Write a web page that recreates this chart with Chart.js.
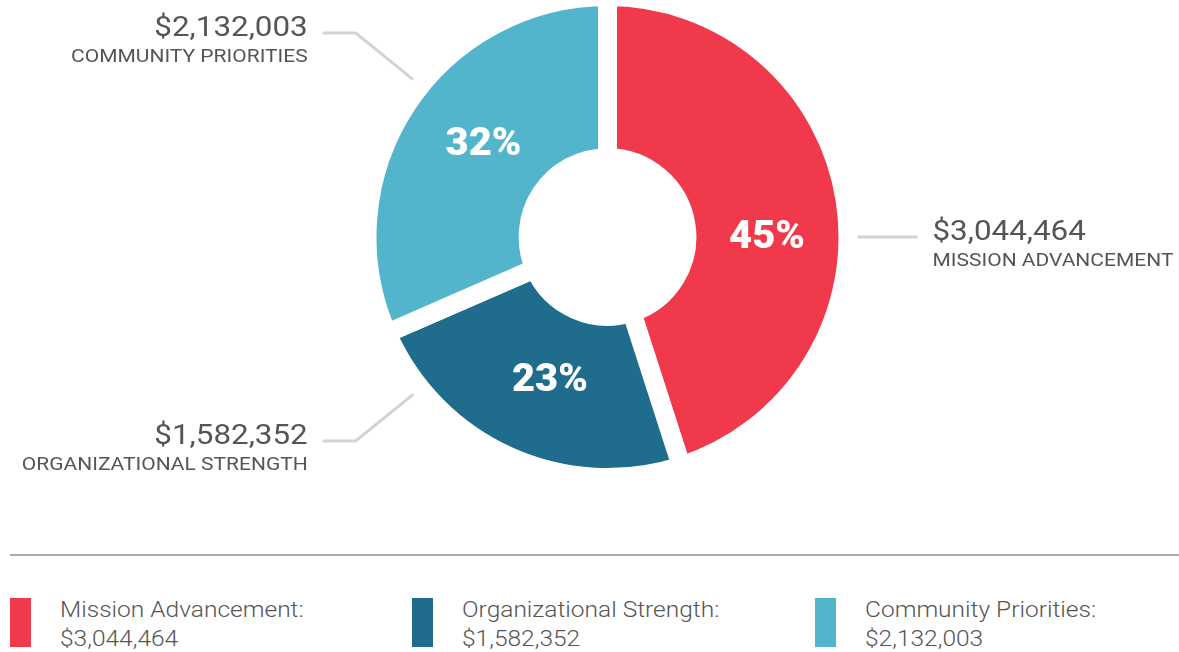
<!DOCTYPE html>
<html>
<head>
<meta charset="utf-8">
<script src="https://cdn.jsdelivr.net/npm/chart.js@4/dist/chart.umd.min.js"></script>
<style>
  html, body { margin: 0; padding: 0; background: #fff; }
  body { width: 1179px; height: 652px; position: relative; overflow: hidden; font-family: Roboto, "Liberation Sans", sans-serif; }
  #wrap { position: absolute; left: 0; top: 0; width: 1179px; height: 545px; }
  #sep { position: absolute; left: 10px; top: 554px; width: 1169px; height: 2px; background: #aaaaaa; }
  .leg { position: absolute; top: 598px; height: 50px; }
  .leg .sw { position: absolute; left: 0; top: 0; width: 21px; height: 49px; }
  .leg .t { position: absolute; left: 50px; top: -3px; white-space: nowrap; color: #555; font-weight: 300; font-size: 21.5px; line-height: 29px; transform: scaleX(1.14); transform-origin: 0 0; }
</style>
</head>
<body>
<div id="wrap"><canvas id="c" width="1179" height="545"></canvas></div>
<div id="sep"></div>
<div id="legend"></div>
<script>
const categories = ["Mission Advancement", "Organizational Strength", "Community Priorities"];
const calloutTitles = ["MISSION ADVANCEMENT", "ORGANIZATIONAL STRENGTH", "COMMUNITY PRIORITIES"];
const amounts = [3044464, 1582352, 2132003];
const percentLabels = ["45%", "23%", "32%"];
const colors = ["#F0394B", "#1F6C8C", "#52B5CC"];

const fmt = v => "$" + v.toLocaleString("en-US");

// HTML legend
const legendLeft = [10, 412, 815];
const legendEl = document.getElementById("legend");
categories.forEach((c, i) => {
  const d = document.createElement("div");
  d.className = "leg";
  d.style.left = legendLeft[i] + "px";
  d.innerHTML = '<div class="sw" style="background:' + colors[i] + '"></div><div class="t">' + c + ':<br>' + fmt(amounts[i]) + '</div>';
  legendEl.appendChild(d);
});

const deg = Math.PI / 180;

function wideText(ctx, text, x, y, sx, align) {
  ctx.save();
  ctx.translate(x, y);
  ctx.scale(sx, 1);
  ctx.textAlign = align;
  ctx.fillText(text, 0, 0);
  ctx.restore();
}

const labelPlugin = {
  id: "sliceLabels",
  afterDatasetsDraw(chart, args, opts) {
    const ctx = chart.ctx;
    const meta = chart.getDatasetMeta(0);
    ctx.save();
    meta.data.forEach((arc, i) => {
      const p = arc.getProps(["x", "y", "startAngle", "endAngle"], true);
      const cx = p.x, cy = p.y;
      const mid = (p.startAngle + p.endAngle) / 2;
      // percent labels
      const a = mid + opts.labelShift[i] * deg;
      const r = opts.labelRadius[i];
      ctx.fillStyle = "#ffffff";
      ctx.font = "900 38px Roboto, 'Liberation Sans', sans-serif";
      ctx.textBaseline = "middle";
      wideText(ctx, percentLabels[i], cx + Math.cos(a) * r, cy + Math.sin(a) * r + 1, 1.05, "center");

      // callouts
      const ca = opts.calloutAngle[i] * deg;
      const r0 = 250, r1 = opts.calloutOuter[i];
      const x0 = cx + Math.cos(ca) * r0, y0 = cy + Math.sin(ca) * r0;
      const x1 = cx + Math.cos(ca) * r1, y1 = cy + Math.sin(ca) * r1;
      const dir = Math.cos(ca) >= 0 ? 1 : -1;
      const x2 = x1 + dir * opts.calloutTail[i];
      ctx.strokeStyle = "#d3d3d3";
      ctx.lineWidth = 3;
      ctx.beginPath();
      ctx.moveTo(x0, y0);
      ctx.lineTo(x1, y1);
      ctx.lineTo(x2, y1);
      ctx.stroke();

      const tx = x2 + dir * 15;
      const align = dir > 0 ? "left" : "right";
      ctx.textBaseline = "alphabetic";
      ctx.fillStyle = "#555555";
      ctx.font = "400 28px Roboto, 'Liberation Sans', sans-serif";
      wideText(ctx, fmt(amounts[i]), tx, y1 + 3, 1.12, align);
      ctx.font = "400 18.5px Roboto, 'Liberation Sans', sans-serif";
      wideText(ctx, calloutTitles[i], tx, y1 + 29, 1.135, align);
    });
    ctx.restore();
  }
};

new Chart(document.getElementById("c"), {
  type: "doughnut",
  data: {
    labels: categories,
    datasets: [{
      data: amounts,
      backgroundColor: colors,
      borderColor: "#ffffff",
      borderWidth: 19,
      hoverOffset: 0
    }]
  },
  options: {
    responsive: false,
    animation: false,
    events: [],
    radius: 240.5,
    cutout: "33%",
    layout: { padding: { left: 36, right: 0, top: 0, bottom: 71 } },
    plugins: {
      legend: { display: false },
      tooltip: { enabled: false },
      sliceLabels: {
        labelShift: [9, -2.5, 3.4],
        labelRadius: [159.5, 155, 154.5],
        calloutAngle: [0, 141, 219],
        calloutOuter: [310, 324, 324],
        calloutTail: [0, 33, 33]
      }
    }
  },
  plugins: [labelPlugin]
});
</script>
</body>
</html>
